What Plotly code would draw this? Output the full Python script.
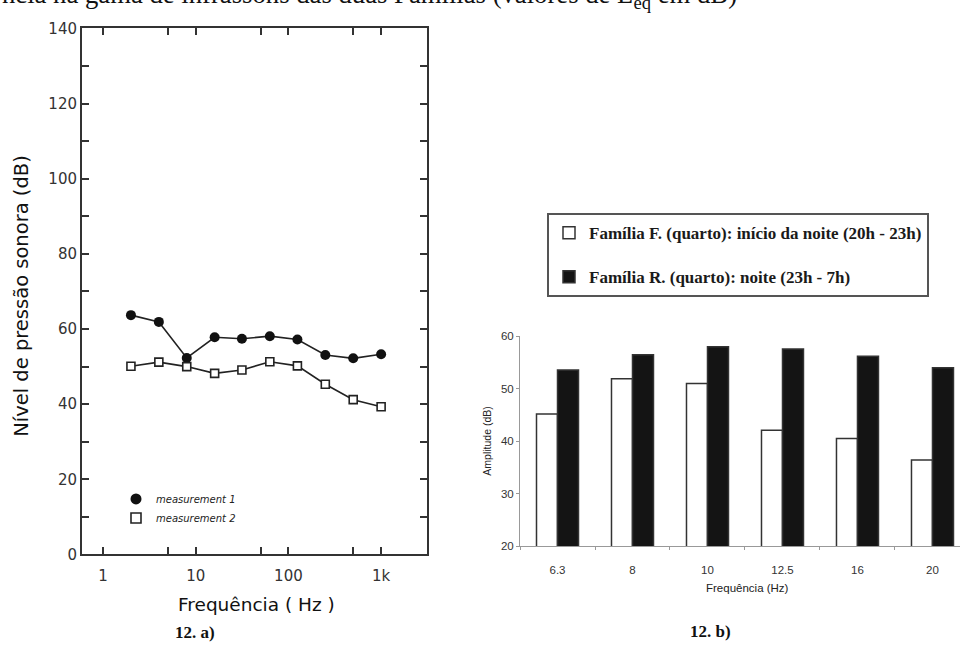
import plotly.graph_objects as go

# ---- data: left chart (12. a) ----
freq_hz = [2, 4, 8, 16, 31.5, 63, 125, 250, 500, 1000]
measurement_1 = [63.7, 61.9, 52.3, 57.8, 57.4, 58.1, 57.2, 53.1, 52.2, 53.3]
measurement_2 = [50.1, 51.2, 50.0, 48.2, 49.1, 51.3, 50.2, 45.3, 41.2, 39.3]
left_xtick_vals = [1, 5, 10, 50, 100, 500, 1000]
left_xtick_text = ["1", "", "10", "", "100", "", "1k"]
left_ytick_vals = list(range(0, 141, 10))
left_ytick_text = [str(v) if v % 20 == 0 else "" for v in left_ytick_vals]

# ---- data: right chart (12. b) ----
bands = ["6.3", "8", "10", "12.5", "16", "20"]
familia_F = [45.2, 51.9, 51.0, 42.1, 40.5, 36.4]
familia_R = [53.6, 56.5, 58.0, 57.6, 56.2, 54.0]
right_ytick_vals = [20, 30, 40, 50, 60]

W, H = 960, 650
def px_x(p): return p / W
def px_y(p): return (H - p) / H

fig = go.Figure()

# left chart traces
fig.add_trace(go.Scatter(x=freq_hz, y=measurement_1, mode="lines+markers",
                         line=dict(color="#222", width=1.6),
                         marker=dict(symbol="circle", size=10, color="#111"),
                         showlegend=False, xaxis="x", yaxis="y"))
fig.add_trace(go.Scatter(x=freq_hz, y=measurement_2, mode="lines+markers",
                         line=dict(color="#222", width=1.6),
                         marker=dict(symbol="square", size=8, color="white",
                                     line=dict(color="#222", width=1.6)),
                         showlegend=False, xaxis="x", yaxis="y"))
# legend entries (left)
fig.add_trace(go.Scatter(x=[None], y=[None], mode="markers", name="measurement 1",
                         marker=dict(symbol="circle", size=11, color="#111"),
                         legend="legend", xaxis="x", yaxis="y"))
fig.add_trace(go.Scatter(x=[None], y=[None], mode="markers", name="measurement 2",
                         marker=dict(symbol="square", size=10, color="white",
                                     line=dict(color="#222", width=1.6)),
                         legend="legend", xaxis="x", yaxis="y"))

# right chart bars
fig.add_trace(go.Bar(x=bands, y=familia_F, name="Família F. (quarto): início da noite (20h - 23h)",
                     marker=dict(color="white", line=dict(color="#333", width=1.5)),
                     legend="legend2", legendgroup="F", xaxis="x2", yaxis="y2"))
fig.add_trace(go.Bar(x=bands, y=familia_R, name="Família R. (quarto): noite (23h - 7h)",
                     marker=dict(color="#141414", line=dict(color="#333", width=1.5)),
                     legend="legend2", legendgroup="R", xaxis="x2", yaxis="y2"))

tick_font_left = dict(family="DejaVu Sans", size=15, color="#333")
tick_font_right = dict(family="Liberation Sans", size=11.5, color="#333")
fig.update_layout(
    width=W, height=H, margin=dict(l=0, r=0, t=0, b=0),
    paper_bgcolor="white", plot_bgcolor="white",
    barmode="group", bargap=0.44, bargroupgap=0,
    xaxis=dict(type="log", domain=[px_x(82), px_x(427)], range=[-0.227, 3.495],
               tickvals=left_xtick_vals, ticktext=left_xtick_text,
               ticks="inside", ticklen=7, tickwidth=2, tickcolor="#333",
               showline=True, linecolor="#333", linewidth=2, mirror="ticks",
               showgrid=False, zeroline=False, tickfont=tick_font_left,
               ticklabelstandoff=7, anchor="y"),
    yaxis=dict(domain=[px_y(561), px_y(20)], range=[0, 140],
               tickvals=left_ytick_vals, ticktext=left_ytick_text,
               ticks="inside", ticklen=7, tickwidth=2, tickcolor="#333",
               showline=True, linecolor="#333", linewidth=2, mirror="ticks",
               showgrid=False, zeroline=False, tickfont=tick_font_left, anchor="x"),
    xaxis2=dict(type="category", domain=[px_x(520), 1.0], range=[-0.5, 5.367],
                tickson="boundaries", ticks="outside", ticklen=3, tickcolor="#999",
                showline=True, linecolor="#999", linewidth=1, showgrid=False,
                tickfont=tick_font_right, ticklabelstandoff=13, anchor="y2"),
    yaxis2=dict(domain=[px_y(552.3), px_y(336.7)], range=[20, 60],
                tickvals=right_ytick_vals, ticks="outside", ticklen=3, tickcolor="#999",
                showline=True, linecolor="#999", linewidth=1, showgrid=False, zeroline=False,
                tickfont=tick_font_right, anchor="x2"),
    legend=dict(x=px_x(116), y=px_y(489), xanchor="left", yanchor="top",
                font=dict(family="DejaVu Sans", size=10, color="#222", style="italic"),
                bgcolor="rgba(0,0,0,0)", tracegroupgap=0, itemwidth=30),
    legend2=dict(x=px_x(547), y=px_y(210), xanchor="left", yanchor="top",
                 font=dict(family="Liberation Serif", size=17, color="#1a1a1a", weight="bold"),
                 bgcolor="white", bordercolor="#555", borderwidth=2,
                 traceorder="grouped", tracegroupgap=19, itemwidth=30),
    annotations=[
        dict(text="ncia na gama de infrassons das duas Famílias (valores de L<sub>eq</sub> em dB)",
             x=0, y=1, xref="paper", yref="paper", xanchor="left", yanchor="middle",
             yshift=13, showarrow=False,
             font=dict(family="Liberation Serif", size=26.7, color="#111")),
        dict(text="Nível de pressão sonora (dB)", textangle=-90,
             x=px_x(22), y=px_y(295), xref="paper", yref="paper",
             xanchor="center", yanchor="middle", showarrow=False,
             font=dict(family="DejaVu Sans", size=19.5, color="#111")),
        dict(text="Frequência ( Hz )", x=px_x(256), y=px_y(612), xref="paper", yref="paper",
             xanchor="center", yanchor="middle", showarrow=False,
             font=dict(family="DejaVu Sans", size=18.5, color="#111")),
        dict(text="<b>12. a)</b>", x=px_x(195), y=px_y(641), xref="paper", yref="paper",
             xanchor="center", yanchor="middle", showarrow=False,
             font=dict(family="Liberation Serif", size=17, color="#111")),
        dict(text="Amplitude (dB)", textangle=-90,
             x=px_x(487), y=px_y(445), xref="paper", yref="paper",
             xanchor="center", yanchor="middle", showarrow=False,
             font=dict(family="Liberation Sans", size=10.5, color="#222")),
        dict(text="Frequência (Hz)", x=px_x(747), y=px_y(596), xref="paper", yref="paper",
             xanchor="center", yanchor="middle", showarrow=False,
             font=dict(family="Liberation Sans", size=11.5, color="#222")),
        dict(text="<b>12. b)</b>", x=px_x(710), y=px_y(640), xref="paper", yref="paper",
             xanchor="center", yanchor="middle", showarrow=False,
             font=dict(family="Liberation Serif", size=17, color="#111")),
    ],
)

fig.write_html("out.html")
